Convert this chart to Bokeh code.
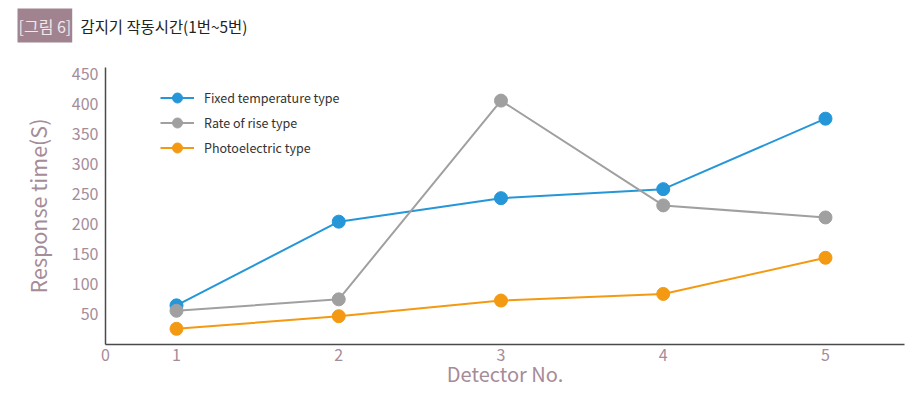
from bokeh.plotting import figure
from bokeh.layouts import column
from bokeh.models import Range1d, FixedTicker, Label, Legend, LegendItem
from bokeh.embed import file_html
from bokeh.resources import INLINE

# ---- data ----
detectors = [1, 2, 3, 4, 5]
fixed_temp = [65, 204, 243, 258, 375]
rate_of_rise = [56, 75, 405, 231, 211]
photoelectric = [26, 47, 73, 84, 144]
y_ticks = [50, 100, 150, 200, 250, 300, 350, 400, 450]
series_names = ["Fixed temperature type", "Rate of rise type", "Photoelectric type"]
title_tag = "[그림 6]"
title_text = "감지기 작동시간(1번~5번)"
x_title = "Detector No."
y_title = "Response time(S)"

FONT = "Noto Sans CJK KR"
MAUVE = "#a58c99"
colors = ["#2596d8", "#a0a0a0", "#f39a12"]

HEAD_H = 44
W = 920

# ---- header (title row) ----
head = figure(width=W, height=HEAD_H, output_backend="svg", toolbar_location=None,
              x_axis_type=None, y_axis_type=None, x_range=Range1d(0, W), y_range=Range1d(0, HEAD_H),
              min_border=0)
head.frame_align = False
head.outline_line_color = None
head.xgrid.visible = False
head.ygrid.visible = False
head.add_layout(Label(x=17, y=HEAD_H - 25, x_units="screen", y_units="screen", text=title_tag,
                      text_align="left", text_baseline="middle", text_font=FONT,
                      text_font_size="16px", text_color="#f2e8ec",
                      background_fill_color="#a0838f", padding=(1, 5)))
head.add_layout(Label(x=80, y=HEAD_H - 25, x_units="screen", y_units="screen", text=title_text,
                      text_align="left", text_baseline="middle", text_font=FONT,
                      text_font_size="15.4px", text_color="#222222"))

# ---- main chart ----
X0, X1 = 0.5624, 5.487
p = figure(width=W, height=404 - HEAD_H, output_backend="svg", toolbar_location=None,
           x_range=Range1d(X0, X1), y_range=Range1d(0, 460),
           min_border_left=105, min_border_right=16, min_border_top=67 - HEAD_H,
           min_border_bottom=60)
p.frame_align = False
p.outline_line_color = None
p.xgrid.visible = False
p.ygrid.visible = False

for ax in (p.xaxis[0], p.yaxis[0]):
    ax.axis_line_color = "#4a4a4a"
    ax.axis_line_width = 1.5
    ax.major_tick_line_color = None
    ax.minor_tick_line_color = None
    ax.major_label_text_font = FONT
    ax.major_label_text_font_size = "16px"
    ax.major_label_text_color = MAUVE
    ax.axis_label_text_font = FONT
    ax.axis_label_text_font_size = "20px"
    ax.axis_label_text_font_style = "normal"
    ax.axis_label_text_color = MAUVE
p.yaxis[0].axis_label_text_font_size = "21.5px"

p.xaxis[0].ticker = FixedTicker(ticks=[X0] + detectors)
p.xaxis[0].major_label_overrides = {X0: "0"}
p.yaxis[0].ticker = FixedTicker(ticks=y_ticks)
p.xaxis[0].axis_label = x_title
p.yaxis[0].axis_label = y_title
p.xaxis[0].major_label_standoff = -2
p.yaxis[0].major_label_standoff = 1
p.xaxis[0].axis_label_standoff = -5
p.yaxis[0].axis_label_standoff = 16

items = []
for name, vals, c in zip(series_names, [fixed_temp, rate_of_rise, photoelectric], colors):
    r1 = p.line(detectors, vals, line_color=c, line_width=2)
    r2 = p.scatter(detectors, vals, size=13, fill_color=c, line_color=c)
    items.append(LegendItem(label=name, renderers=[r1, r2]))

legend = Legend(items=items, location=(55, 184), padding=0, margin=0, spacing=0,
                glyph_width=34, glyph_height=25, label_height=25, label_standoff=10,
                label_text_font=FONT, label_text_font_size="12.5px", label_text_color="#333333",
                border_line_color=None, background_fill_alpha=0)
p.add_layout(legend)

layout = column(head, p, spacing=0)
open("out.html", "w").write(file_html(layout, INLINE))
